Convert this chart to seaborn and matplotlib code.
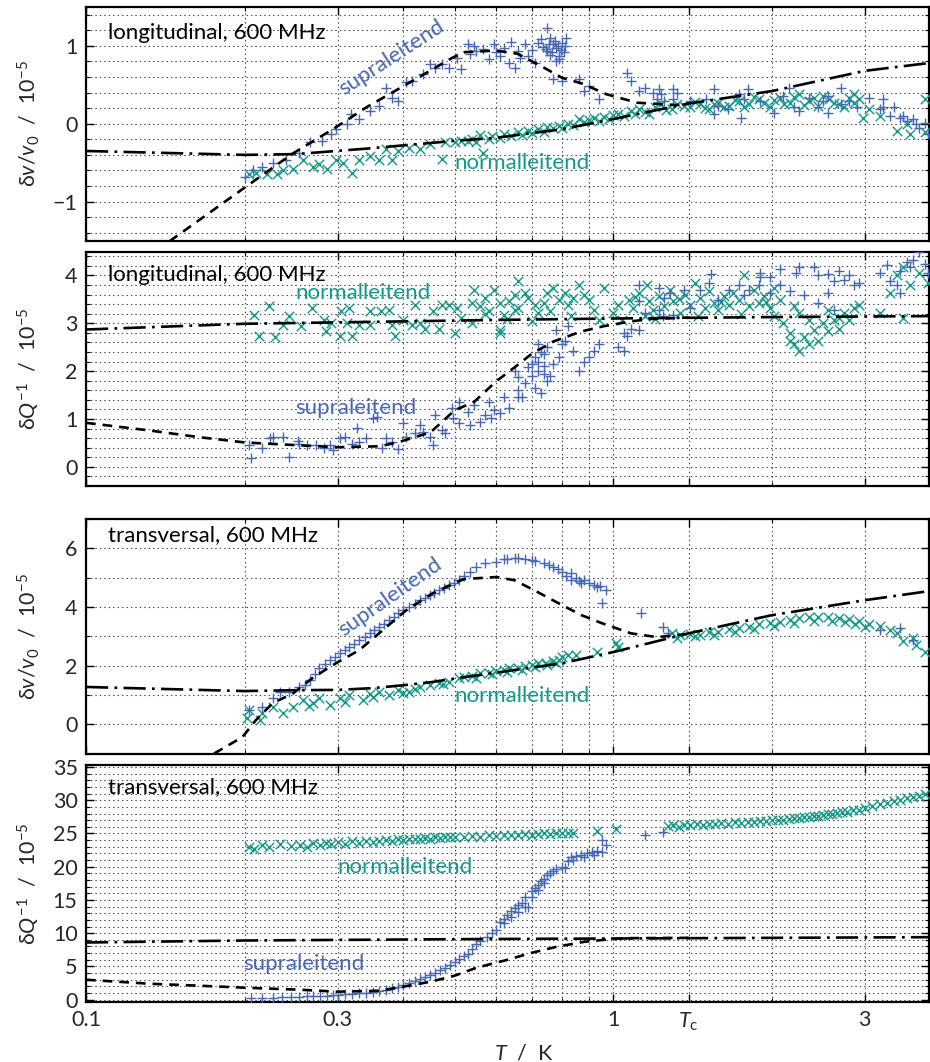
import numpy as np
import pandas as pd
import matplotlib
matplotlib.use("Agg")
import matplotlib.pyplot as plt
import matplotlib.ticker as mticker
import seaborn as sns

# ---------------- data (T in K, values in 1e-5) ----------------
TC = 1.39
x_major = [0.1, 0.3, 1.0, TC, 3.0]
x_major_labels = ["0.1", "0.3", "1", "$T_\\mathrm{c}$", "3"]
x_minor = [0.2, 0.4, 0.5, 0.6, 0.7, 0.8, 0.9, 2.0]

# panel 1: longitudinal dv/v
p1_sup = [(0.200,-0.69),(0.207,-0.60),(0.216,-0.56),(0.226,-0.50),(0.240,-0.47),(0.254,-0.37),(0.266,-0.24),
          (0.280,-0.22),(0.292,-0.13),(0.298,-0.07),(0.312,0.00),(0.318,0.12),(0.330,0.06),(0.345,0.17),
          (0.360,0.23),(0.370,0.46),(0.380,0.33),(0.390,0.29),(0.405,0.53),(0.416,0.55),(0.435,0.64),
          (0.450,0.77),(0.460,0.72),(0.474,0.77),(0.488,0.72),(0.505,0.85),(0.515,0.70),
          (0.530,1.03),(0.535,0.90),(0.550,0.94),(0.580,0.83),(0.595,1.03),(0.610,0.87),(0.620,0.97),
          (0.635,0.78),(0.650,0.72),(0.660,0.94),(0.680,1.03),(0.690,0.87),(0.710,0.78),(0.720,1.04),
          (0.730,1.09),(0.745,0.96),(0.750,0.94),(0.750,1.23),(0.760,1.10),(0.770,1.03),(0.780,0.97),
          (0.790,0.87),(0.800,1.04),(0.810,1.00),(0.815,1.10),(0.790,0.83),(0.780,0.81),(0.770,0.58),
          (0.800,0.55),(0.860,0.58),(0.880,0.42),(0.900,0.49),(0.940,0.32),
          (0.545,1.00),(0.565,0.96),(0.600,0.92),(0.640,1.05),(0.665,0.85),(0.700,0.95),(0.735,0.99),
          (0.755,1.02),(0.765,0.92),(0.775,1.06),(0.785,1.00),(0.795,0.95),(0.805,0.92),(0.760,0.88),
          (1.06,0.65),(1.08,0.55),(1.12,0.42),(1.15,0.46),(1.19,0.40),(1.21,0.32),(1.22,0.45),(1.23,0.38),
          (1.25,0.29),(1.30,0.45),(1.30,0.32),(1.32,0.40),(1.40,0.29),(1.50,0.32),(1.55,0.45),(1.58,0.23),
          (1.55,0.13),(1.65,0.19),(1.73,0.38),(1.77,0.32),(1.80,0.45),(1.90,0.29),(1.75,0.08),(2.02,0.14),
          (2.10,0.36),(2.15,0.46),(2.20,0.21),(2.25,0.17),(2.35,0.33),(2.45,0.21),(2.55,0.14),(2.70,0.26),
          (2.80,0.29),(2.90,0.21),(2.70,0.46),(2.55,0.36),(2.50,0.29),(3.05,0.33),(3.20,0.19),(3.25,0.21),
          (3.35,0.10),(3.40,0.21),(3.50,0.08),(3.55,0.10),(3.60,0.04),(3.70,0.06),(3.75,0.00),(3.80,-0.05),
          (3.90,0.01),(3.95,-0.13),(3.25,0.32)]
p1_nor = [(0.204,-0.64),(0.210,-0.63),(0.220,-0.64),(0.230,-0.64),(0.236,-0.60),(0.247,-0.58),(0.258,-0.47),
          (0.270,-0.56),(0.277,-0.52),(0.287,-0.58),(0.298,-0.47),(0.307,-0.50),(0.320,-0.63),(0.330,-0.47),
          (0.345,-0.41),(0.360,-0.47),(0.380,-0.47),(0.370,-0.32),(0.390,-0.35),(0.410,-0.31),(0.430,-0.32),
          (0.450,-0.26),(0.474,-0.45),(0.480,-0.24),(0.500,-0.24),(0.515,-0.22),
          (0.53,-0.22),(0.54,-0.19),(0.55,-0.24),(0.56,-0.15),(0.565,-0.37),(0.58,-0.20),(0.59,-0.16),
          (0.61,-0.18),(0.62,-0.13),(0.64,-0.16),(0.66,-0.11),(0.67,-0.14),(0.69,-0.09),(0.70,-0.12),
          (0.72,-0.07),(0.74,-0.10),(0.75,-0.04),(0.77,-0.06),(0.79,-0.03),(0.80,-0.06),(0.82,0.00),
          (0.84,-0.02),(0.86,0.06),(0.88,0.02),(0.90,0.05),(0.92,0.08),(0.94,0.04),(0.96,0.09),(0.98,0.06),
          (1.00,0.11),(1.02,0.12),(1.05,0.10),(1.08,0.16),(1.10,0.13),(1.12,0.19),(1.15,0.15),(1.17,0.12),
          (1.20,0.22),(1.23,0.26),(1.26,0.18),(1.29,0.19),(1.32,0.25),(1.36,0.23),(1.40,0.21),(1.43,0.28),
          (1.46,0.26),(1.49,0.20),(1.52,0.19),(1.55,0.25),(1.58,0.27),(1.62,0.21),(1.66,0.23),(1.70,0.30),
          (1.73,0.29),(1.77,0.22),(1.81,0.26),(1.85,0.34),(1.89,0.32),(1.93,0.27),(1.98,0.21),(2.02,0.30),
          (2.07,0.33),(2.11,0.25),(2.16,0.27),(2.20,0.35),(2.25,0.38),(2.30,0.24),(2.35,0.29),(2.40,0.33),
          (2.45,0.23),(2.50,0.36),(2.56,0.32),(2.62,0.27),(2.68,0.26),(2.74,0.21),(2.80,0.33),(2.86,0.27),
          (2.86,0.38),(2.92,0.32),(2.97,0.08),(3.05,0.19),(3.20,0.10),(3.45,-0.09),(3.60,0.00),(3.65,-0.13),
          (3.90,-0.11),(3.90,0.32)]
p1_fit_sup = [(0.144,-1.51),(0.20,-0.82),(0.247,-0.38),(0.294,-0.07),(0.34,0.21),(0.416,0.55),(0.496,0.85),
              (0.522,0.92),(0.60,0.94),(0.658,0.90),(0.73,0.74),(0.80,0.59),(0.87,0.52),(0.97,0.38),
              (1.11,0.27),(1.32,0.24),(1.39,0.26)]
p1_fit_nor = [(0.1,-0.35),(0.2,-0.40),(0.25,-0.39),(0.34,-0.32),(0.5,-0.22),(0.6,-0.18),(0.8,-0.07),
              (1.0,0.06),(1.39,0.26),(2.0,0.42),(3.0,0.68),(3.97,0.78)]

# panel 2: longitudinal dQ^-1
p2_sup = [(0.204,0.45),(0.206,0.19),(0.216,0.40),(0.223,0.60),(0.226,0.62),(0.236,0.62),(0.243,0.21),
          (0.252,0.55),(0.254,0.47),(0.263,0.45),(0.273,0.45),(0.283,0.40),(0.290,0.45),(0.294,0.36),
          (0.303,0.60),(0.310,0.62),(0.320,0.47),(0.330,0.51),(0.340,0.60),(0.327,0.81),(0.350,1.02),
          (0.356,1.04),(0.365,0.40),(0.370,0.60),(0.380,0.51),(0.390,0.38),(0.400,0.91),(0.405,0.62),
          (0.420,0.70),(0.430,0.87),(0.435,0.72),(0.450,0.62),(0.455,0.45),(0.460,1.09),(0.474,0.77),
          (0.480,0.70),(0.494,1.23),(0.496,1.02),(0.510,1.36),(0.510,0.91),
          (0.530,1.15),(0.535,0.87),(0.545,1.30),(0.560,0.94),(0.570,1.09),(0.580,1.36),(0.585,1.02),
          (0.595,1.19),(0.610,1.13),(0.620,1.47),(0.635,1.23),(0.660,1.45),(0.670,1.47),(0.650,2.00),
          (0.660,1.87),(0.690,2.08),(0.710,2.30),(0.720,2.57),(0.740,2.36),(0.750,2.51),(0.720,2.00),
          (0.740,1.94),(0.760,1.89),(0.770,2.15),(0.790,2.30),(0.800,2.57),(0.780,2.85),(0.810,2.64),
          (0.820,2.94),(0.840,2.43),(0.860,2.00),(0.880,2.19),(0.900,2.30),(0.920,2.43),(0.940,2.57),
          (0.66,1.60),(0.68,1.75),(0.70,1.90),(0.72,2.20),(0.73,2.40),(0.70,2.15),(0.74,2.10),(0.75,1.80),
          (0.71,1.65),(0.73,1.55),
          (1.02,2.51),(1.05,2.79),(1.08,2.89),(1.06,2.74),(1.05,2.43),(1.12,2.85),(1.12,3.47),(1.15,3.21),
          (1.12,3.81),(1.22,3.28),(1.25,3.53),(1.28,3.64),(1.22,3.74),(1.24,3.15),(1.30,3.17),(1.36,3.70),
          (1.40,3.32),(1.46,3.70),(1.52,3.85),(1.53,4.02),(1.58,3.49),(1.66,3.70),(1.73,3.81),(1.77,3.60),
          (1.81,3.70),(1.90,3.96),(1.89,3.79),(1.98,3.64),(1.90,4.06),(1.98,3.96),(2.07,3.79),(2.16,3.68),
          (2.22,4.06),(2.25,4.17),(2.07,4.13),(2.30,3.60),(2.40,4.17),(2.45,4.00),(2.55,4.02),(2.62,3.89),
          (2.68,4.10),(2.74,3.91),(2.80,4.00),(2.86,3.79),(2.92,3.85),(2.55,3.64),(2.45,3.43),(2.62,3.28),
          (3.20,4.06),(3.30,4.21),(3.35,3.89),(3.45,3.79),(3.50,4.10),(3.60,4.28),(3.65,4.17),(3.70,4.32),
          (3.80,4.48),(3.90,4.23),(3.95,4.06),(3.50,3.64)]
p2_nor = [(0.208,3.17),(0.222,3.36),(0.213,2.74),(0.228,2.72),(0.236,2.96),(0.243,3.15),(0.256,2.94),
          (0.268,3.32),(0.283,3.06),(0.285,2.83),(0.292,3.00),(0.303,2.74),(0.305,3.26),(0.312,3.00),
          (0.316,3.32),(0.320,2.74),(0.330,2.96),(0.345,3.26),(0.345,2.96),(0.363,3.26),(0.376,3.28),
          (0.380,2.96),(0.385,2.74),(0.400,3.06),(0.416,2.96),(0.420,3.38),(0.430,3.00),(0.440,2.89),
          (0.455,3.26),(0.467,2.89),(0.474,3.38),(0.488,3.38),(0.500,2.79),(0.505,3.32),(0.515,3.11),
          (0.54,3.00),(0.54,3.43),(0.545,3.70),(0.56,3.36),(0.57,3.53),(0.58,3.26),(0.595,3.70),(0.61,3.43),
          (0.61,2.85),(0.61,2.79),(0.62,3.17),(0.635,3.47),(0.65,3.60),(0.65,3.28),(0.66,3.32),(0.66,3.89),
          (0.68,3.64),(0.69,3.53),(0.71,3.38),(0.72,3.21),(0.74,3.43),(0.75,3.64),(0.77,3.74),(0.79,3.49),
          (0.81,3.64),(0.82,3.38),(0.84,3.53),(0.86,3.79),(0.88,3.60),(0.90,3.49),(0.92,3.28),(0.94,3.06),
          (0.96,3.74),(0.57,3.20),(0.63,3.10),(0.70,3.05),(0.76,3.25),(0.83,3.15),
          (1.00,3.21),(1.02,3.38),(1.04,3.06),(1.07,3.49),(1.09,3.32),(1.12,3.64),(1.15,3.15),(1.16,3.79),
          (1.17,3.47),(1.19,3.28),(1.22,3.57),(1.25,3.36),(1.28,3.70),(1.30,3.47),(1.34,3.21),(1.37,3.60),
          (1.40,3.38),(1.43,3.85),(1.46,3.53),(1.49,3.32),(1.52,3.68),(1.55,3.43),(1.58,3.28),(1.62,3.57),
          (1.66,3.38),(1.69,3.64),(1.73,3.49),(1.77,4.00),(1.81,3.36),(1.85,3.70),(1.89,3.43),(1.93,3.57),
          (1.98,3.32),(2.02,3.74),(2.07,3.49),(2.02,3.15),(1.10,3.55),(1.20,3.10),(1.33,3.50),(1.45,3.15),
          (1.60,3.45),(1.75,3.20),(1.95,3.45),
          (2.10,3.00),(2.16,2.79),(2.20,2.57),(2.25,2.43),(2.16,2.64),(2.30,2.72),(2.35,2.57),(2.40,2.85),
          (2.45,2.64),(2.50,3.00),(2.55,2.83),(2.62,3.06),(2.68,2.89),(2.74,3.21),(2.80,3.06),(2.86,3.32),
          (2.92,3.38),(2.35,3.06),(2.25,3.21),(2.20,3.36),(2.55,3.28),(2.68,3.11),(3.20,3.21),(3.55,3.11),
          (3.45,4.00),(3.55,4.17),(3.80,4.06),(3.95,3.85),(3.65,3.81),(3.35,3.64)]
p2_fit_sup = [(0.1,0.92),(0.132,0.76),(0.164,0.62),(0.2,0.51),(0.254,0.45),(0.3,0.41),(0.36,0.43),
              (0.39,0.51),(0.45,0.72),(0.5,1.18),(0.545,1.36),(0.6,1.79),(0.65,2.08),(0.7,2.36),
              (0.77,2.62),(0.87,2.83),(0.96,2.94),(1.08,3.04),(1.18,3.09),(1.39,3.12)]
p2_fit_nor = [(0.1,2.87),(0.2,2.99),(0.4,3.04),(0.6,3.07),(1.0,3.10),(2.0,3.13),(3.97,3.15)]

# panel 3: transversal dv/v
p3_sup = [(0.204,0.48),(0.216,0.58),(0.226,0.89),(0.233,1.09),(0.243,1.09),(0.254,1.26),(0.260,1.35),
          (0.266,1.50),(0.272,1.70),(0.277,1.91),(0.284,2.05),(0.290,2.18),(0.297,2.30),(0.303,2.42),
          (0.310,2.52),(0.316,2.63),(0.323,2.75),(0.330,2.87),(0.338,2.98),(0.345,3.10),(0.352,3.20),
          (0.360,3.31),(0.368,3.43),(0.376,3.55),(0.383,3.67),(0.390,3.79),(0.400,3.89),(0.410,3.99),
          (0.420,4.11),(0.430,4.23),(0.440,4.32),(0.450,4.40),(0.458,4.48),(0.467,4.57),(0.478,4.66),
          (0.488,4.74),(0.499,4.83),(0.510,4.91),(0.522,5.05),(0.535,5.19),(0.550,5.36),(0.570,5.49),
          (0.600,5.53),(0.620,5.63),(0.650,5.67),(0.680,5.63),(0.710,5.56),(0.740,5.49),(0.770,5.36),
          (0.800,5.19),(0.830,5.15),(0.850,4.98),(0.880,4.91),(0.920,4.74),(0.930,4.68),(0.970,4.57),
          (0.950,4.13),(0.830,4.91),(0.870,4.81),(0.630,5.62),(0.660,5.66),(0.700,5.60),(0.755,5.42),
          (0.785,5.28),(0.815,5.05),(0.900,4.80),(0.860,4.88),(0.945,4.70),
          (1.13,3.79),(1.24,3.31),(1.27,3.10),(3.20,3.20),(3.50,3.28),(3.70,2.87)]
p3_nor = [(0.202,0.20),(0.204,0.48),(0.214,0.14),(0.216,0.38),(0.226,0.58),(0.236,0.38),(0.247,0.58),
          (0.258,0.82),(0.270,0.72),(0.277,0.89),(0.290,0.65),(0.303,0.89),(0.316,0.99),(0.335,0.82),
          (0.350,0.92),(0.360,1.09),(0.376,0.99),(0.390,1.16),(0.410,1.09),(0.430,1.26),(0.450,1.33),
          (0.467,1.40),(0.488,1.43),(0.510,1.57),(0.265,0.62),(0.310,0.75),(0.345,1.02),(0.400,1.05),
          (0.420,1.20),(0.475,1.38),
          (0.52,1.60),(0.54,1.66),(0.56,1.74),(0.58,1.76),(0.60,1.81),(0.62,1.85),(0.635,1.91),(0.66,1.93),
          (0.68,1.98),(0.70,2.03),(0.72,2.08),(0.745,2.10),(0.77,2.15),(0.79,2.20),(0.80,2.29),(0.82,2.35),
          (0.85,2.35),(0.93,2.46),(1.01,2.76),(1.02,2.63),(0.55,1.58),(0.59,1.70),(0.63,1.78),(0.67,1.86),
          (0.71,1.95),(0.75,2.02),(0.78,2.08),
          (1.29,3.10),(1.34,3.04),(1.40,3.07),(1.46,3.04),(1.52,3.14),(1.58,3.14),(1.66,3.24),(1.73,3.28),
          (1.81,3.31),(1.89,3.41),(1.98,3.45),(2.07,3.48),(2.16,3.55),(2.25,3.62),(2.35,3.65),(2.45,3.65),
          (2.55,3.65),(2.68,3.62),(2.80,3.58),(2.92,3.52),(3.05,3.41),(3.20,3.34),(3.35,3.20),(3.45,3.10),
          (3.55,2.83),(3.70,2.93),(3.75,2.70),(3.90,2.46),(1.32,2.95),(1.43,3.00),(1.55,3.05),(1.70,3.15),
          (1.85,3.25),(2.02,3.36),(2.20,3.45),(2.40,3.52),(2.60,3.53),(2.75,3.50),(2.88,3.42),(3.00,3.30)]
p3_fit_sup = [(0.175,-1.0),(0.198,-0.44),(0.21,0.14),(0.226,0.72),(0.247,1.05),(0.27,1.6),(0.298,2.08),
              (0.33,2.53),(0.365,3.2),(0.405,3.89),(0.455,4.47),(0.52,4.95),(0.6,5.02),(0.65,4.91),
              (0.72,4.5),(0.8,4.06),(0.87,3.72),(0.95,3.45),(1.08,3.1),(1.21,2.97),(1.39,3.08)]
p3_fit_nor = [(0.1,1.27),(0.2,1.13),(0.25,1.16),(0.3,1.17),(0.35,1.23),(0.4,1.33),(0.45,1.43),(0.52,1.6),
              (0.8,2.08),(1.0,2.46),(1.39,3.1),(2.0,3.72),(3.0,4.23),(3.97,4.54)]

# panel 4: transversal dQ^-1
p4_sup = [(0.206,0.3),(0.216,0.3),(0.226,0.3),(0.235,0.35),(0.245,0.4),(0.254,0.45),(0.262,0.5),(0.27,0.5),
          (0.278,0.55),(0.286,0.6),(0.294,0.7),(0.30,0.75),(0.31,0.8),(0.32,0.85),(0.33,0.95),(0.34,1.05),
          (0.35,1.15),(0.36,1.3),(0.37,1.5),(0.38,1.7),(0.39,1.95),(0.40,2.2),(0.41,2.5),(0.42,2.8),
          (0.43,3.1),(0.44,3.4),(0.45,3.7),(0.46,4.0),(0.47,4.4),(0.48,4.8),(0.49,5.2),(0.50,5.6),
          (0.51,6.1),(0.52,6.5),(0.53,6.9),(0.54,7.6),(0.55,8.3),(0.56,8.8),(0.575,9.5),(0.59,10.0),
          (0.60,10.5),(0.61,11.7),(0.62,12.2),(0.63,12.8),(0.64,13.3),(0.65,13.8),(0.66,14.2),(0.67,14.6),
          (0.68,15.5),(0.69,14.0),(0.70,16.3),(0.71,16.8),(0.72,17.3),(0.73,17.8),(0.74,18.2),(0.75,18.7),
          (0.76,19.0),(0.77,19.3),(0.78,19.6),(0.80,20.0),(0.81,19.8),(0.82,20.8),(0.83,21.5),(0.85,21.6),
          (0.87,21.8),(0.89,22.0),(0.91,22.2),(0.93,22.3),(0.95,22.2),(0.95,24.0),(0.97,23.3),(1.15,24.8),
          (1.24,25.2),(0.62,11.5),(0.64,12.5),(0.66,13.2),(0.68,14.0),(0.70,15.5),(0.72,16.5),(0.74,17.5),
          (0.84,21.0),(0.88,21.4),(0.92,21.8)]
p4_nor = [(0.204,23.0),(0.208,22.6),(0.216,23.3),(0.222,22.9),(0.233,23.4),(0.245,23.1),(0.255,23.3),
          (0.262,23.0),(0.27,23.5),(0.278,23.2),(0.285,23.6),(0.292,23.4),(0.30,23.7),(0.31,23.4),
          (0.32,23.8),(0.33,23.5),(0.34,23.9),(0.35,23.7),(0.36,23.8),(0.37,24.0),(0.38,23.8),(0.39,24.1),
          (0.40,24.0),(0.41,24.2),(0.42,24.1),(0.43,24.2),(0.44,24.3),(0.45,24.2),(0.46,24.4),(0.47,24.3),
          (0.48,24.4),(0.49,24.5),(0.50,24.4),(0.52,24.5),(0.54,24.6),(0.56,24.5),(0.58,24.7),(0.60,24.6),
          (0.62,24.7),(0.64,24.8),(0.66,24.7),(0.68,24.9),(0.70,24.8),(0.72,24.9),(0.74,25.0),(0.76,24.9),
          (0.78,25.1),(0.80,25.0),(0.82,25.0),(0.84,25.1),(0.93,25.3),(1.01,25.7),
          (1.27,26.1),(1.30,26.3),(1.33,26.0),(1.36,26.3),(1.40,26.2),(1.44,26.4),(1.48,26.3),(1.52,26.5),
          (1.56,26.4),(1.60,26.6),(1.65,26.5),(1.70,26.7),(1.75,26.6),(1.80,26.8),(1.85,26.8),(1.90,26.9),
          (1.95,26.9),(2.00,27.0),(2.05,27.1),(2.10,27.1),(2.15,27.2),(2.20,27.3),(2.25,27.3),(2.30,27.5),
          (2.35,27.5),(2.40,27.6),(2.45,27.7),(2.50,27.8),(2.55,27.9),(2.60,28.0),(2.66,28.1),(2.72,28.2),
          (2.78,28.3),(2.85,28.5),(2.92,28.6),(3.00,28.8),(3.10,29.1),(3.20,29.4),(3.30,29.6),(3.40,29.9),
          (3.50,30.1),(3.60,30.3),(3.70,30.5),(3.80,30.7),(3.90,30.9)]
p4_fit_sup = [(0.1,3.0),(0.132,2.4),(0.164,2.1),(0.2,1.8),(0.254,1.5),(0.3,1.2),(0.36,1.35),(0.39,1.8),
              (0.45,2.7),(0.5,3.6),(0.55,4.8),(0.63,6.0),(0.7,7.05),(0.78,7.95),(0.88,8.7),(0.96,9.0),
              (1.05,9.25),(1.39,9.3)]
p4_fit_nor = [(0.1,8.6),(0.2,8.9),(0.5,9.1),(1.0,9.2),(2.0,9.3),(3.97,9.4)]

ylabels = ["δ$v$/$v_0$  /  10$^{-5}$", "δ$Q^{-1}$  /  10$^{-5}$",
           "δ$v$/$v_0$  /  10$^{-5}$", "δ$Q^{-1}$  /  10$^{-5}$"]
titles = ["longitudinal, 600 MHz", "longitudinal, 600 MHz",
          "transversal, 600 MHz", "transversal, 600 MHz"]
ylims = [(-1.5, 1.5), (-0.4, 4.5), (-1.0, 7.0), (-0.35, 35.3)]
ymajor = [[-1, 0, 1], [0, 1, 2, 3, 4], [0, 2, 4, 6], [0, 5, 10, 15, 20, 25, 30, 35]]
yminor = [0.2, 0.2, 1.0, 1.0]
# label anchors: (T, value, rotation)
sup_label = [(0.38, 0.85, 33), (0.325, 1.23, 0), (0.377, 4.33, 35), (0.259, 5.3, 0)]
nor_label = [(0.67, -0.51, 0), (0.335, 3.64, 0), (0.67, 0.96, 0), (0.402, 20.0, 0)]
title_y = [0.89, 0.90, 0.93, 0.905]

BLUE = "#4766b3"
TEAL = "#13998a"

# ---------------- style ----------------
sns.set_theme(style="white")
plt.rcParams["font.family"] = ["Lato", "DejaVu Sans"]
plt.rcParams["mathtext.fontset"] = "custom"
plt.rcParams["mathtext.rm"] = "Lato"
plt.rcParams["mathtext.it"] = "Lato:italic"
plt.rcParams["mathtext.bf"] = "Lato:bold"
plt.rcParams["lines.scale_dashes"] = False
plt.rcParams["axes.unicode_minus"] = True

fig = plt.figure(figsize=(9.3, 10.62), dpi=100)
H = 1062.0
boxes = [(7, 240.5), (251.5, 486), (519, 753.5), (765, 1002)]
L, R = 86 / 930, 929 / 930

datasets = [(p1_sup, p1_nor, p1_fit_sup, p1_fit_nor),
            (p2_sup, p2_nor, p2_fit_sup, p2_fit_nor),
            (p3_sup, p3_nor, p3_fit_sup, p3_fit_nor),
            (p4_sup, p4_nor, p4_fit_sup, p4_fit_nor)]

grid_kw = dict(color="#444444", linestyle=(0, (1.0, 2.2)), linewidth=0.8)
ANN = 16

for i, ((top, bot), (sup, nor, fsup, fnor)) in enumerate(zip(boxes, datasets)):
    ax = fig.add_axes([L, 1 - bot / H, R - L, (bot - top) / H])
    ax.set_xscale("log")
    dsup = pd.DataFrame(sup, columns=["T", "y"])
    dnor = pd.DataFrame(nor, columns=["T", "y"])
    fs = pd.DataFrame(fsup, columns=["T", "y"])
    fn = pd.DataFrame(fnor, columns=["T", "y"])
    sns.scatterplot(data=dnor, x="T", y="y", marker="x", color=TEAL, s=46, linewidth=1.0, ax=ax, zorder=3)
    sns.scatterplot(data=dsup, x="T", y="y", marker="+", color=BLUE, s=55, linewidth=1.0, ax=ax, zorder=3)
    sns.lineplot(data=fn, x="T", y="y", color="black", linewidth=1.9, estimator=None, sort=False,
                 linestyle=(0, (16, 4.5, 2, 4.5)), ax=ax, zorder=4)
    sns.lineplot(data=fs, x="T", y="y", color="black", linewidth=1.9, estimator=None, sort=False,
                 linestyle=(0, (7, 5)), ax=ax, zorder=4)

    ax.set_xlim(0.1, 3.97)
    ax.set_ylim(*ylims[i])
    ax.xaxis.set_major_locator(mticker.FixedLocator(x_major))
    ax.xaxis.set_minor_locator(mticker.FixedLocator(x_minor))
    ax.xaxis.set_minor_formatter(mticker.NullFormatter())
    if i == 3:
        ax.xaxis.set_major_formatter(mticker.FixedFormatter(x_major_labels))
        ax.set_xlabel("$T$  /  K", fontsize=15.5, labelpad=0)
        ax.xaxis.set_label_coords(0.52, -0.175)
    else:
        ax.xaxis.set_major_formatter(mticker.NullFormatter())
        ax.set_xlabel("")
    ax.yaxis.set_major_locator(mticker.FixedLocator(ymajor[i]))
    ax.yaxis.set_minor_locator(mticker.MultipleLocator(yminor[i]))
    ax.yaxis.set_major_formatter(mticker.FuncFormatter(lambda v, p: f"{v:g}".replace("-", "\u2212")))
    ax.set_ylabel(ylabels[i], fontsize=15.5)
    ax.yaxis.set_label_coords(-0.052, 0.5)

    ax.grid(True, which="both", axis="both", **grid_kw)
    ax.set_axisbelow(True)
    ax.tick_params(which="both", direction="in", top=True, right=True, bottom=True, left=True,
                   labelsize=15.5, color="black")
    ax.tick_params(which="major", length=6, width=1.0, pad=6)
    ax.tick_params(which="minor", length=3, width=0.8)
    for s in ax.spines.values():
        s.set_linewidth(1.6)
        s.set_color("black")

    ax.text(0.026, title_y[i], titles[i], transform=ax.transAxes, fontsize=ANN, ha="left", va="center",
            color="black", zorder=6)
    tx, ty, rot = sup_label[i]
    ax.text(tx, ty, "supraleitend", color=BLUE, fontsize=ANN, ha="center", va="center",
            rotation=rot, rotation_mode="anchor", zorder=6)
    tx, ty, rot = nor_label[i]
    ax.text(tx, ty, "normalleitend", color=TEAL, fontsize=ANN, ha="center", va="center",
            rotation=rot, rotation_mode="anchor", zorder=6)

fig.savefig("out.png", dpi=100)
